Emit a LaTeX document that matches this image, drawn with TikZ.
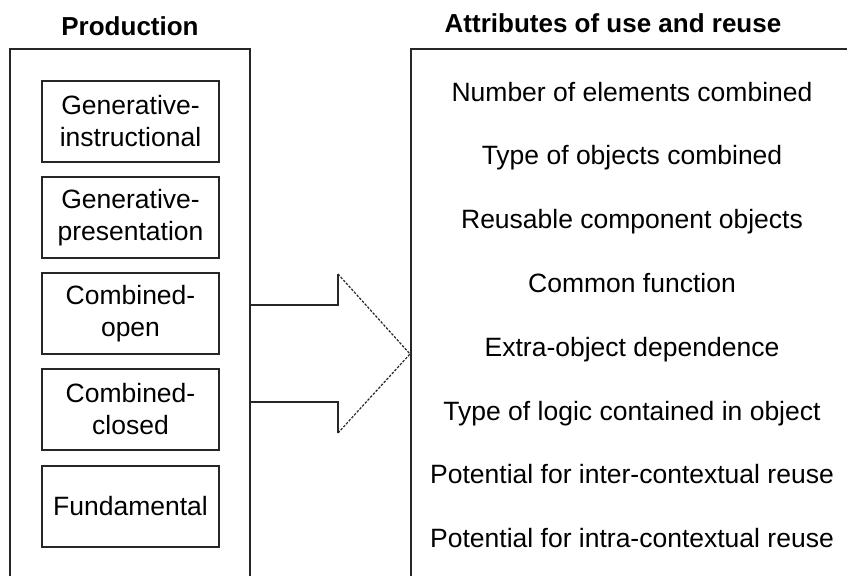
\documentclass[tikz,border=0pt]{standalone}
\usepackage{fontspec}
\setmainfont{Liberation Sans}
\begin{document}
\begin{tikzpicture}[x=1pt,y=-1pt,
  frame/.style={line width=1.6pt, draw=black!85},
  kindbox/.style={draw=black!85, line width=1.6pt, rectangle, minimum width=177pt,
    minimum height=81pt, inner sep=0pt, align=center,
    font=\fontsize{26.5}{32}\selectfont},
  attr/.style={anchor=base, inner sep=0pt, font=\fontsize{26.5}{32}\selectfont},
  title/.style={anchor=base, inner sep=0pt, font=\fontsize{26}{31}\selectfont\bfseries},
  arrowline/.style={line width=1.2pt, draw=black!85},
  arrowdiag/.style={line width=1.2pt, draw=black!85, dash pattern=on 2.5pt off 1.5pt}]
\useasboundingbox (0,0) rectangle (847,576);
\clip (0,0) rectangle (847,576);
\fill[white] (0,0) rectangle (847,576);

% titles
\node[title] (tprod) at (130,35) {Production};
\node[title] (tattr) at (613,32) {Attributes of use and reuse};

% outer frames
\coordinate (lbl) at (10,590);
\coordinate (ltl) at (10,49);
\coordinate (ltr) at (250,49);
\coordinate (lbr) at (250,590);
\draw[frame] (lbl) -- (ltl) -- (ltr) -- (lbr);

\coordinate (rbl) at (411,590);
\coordinate (rtl) at (411,49);
\coordinate (rtr) at (860,49);
\draw[frame] (rbl) -- (rtl) -- (rtr);

% production kinds
\node[kindbox] (k1) at (130.5,121.5) {Generative-\\instructional};
\node[kindbox] (k2) at (130.5,217.5) {Generative-\\presentation};
\node[kindbox] (k3) at (130.5,313.5) {Combined-\\open};
\node[kindbox] (k4) at (130.5,409.5) {Combined-\\closed};
\node[kindbox] (k5) at (130.5,506.5) {Fundamental};

% attributes
\node[attr] (a1) at (632,101) {Number of elements combined};
\node[attr] (a2) at (632,164.8) {Type of objects combined};
\node[attr] (a3) at (632,228.6) {Reusable component objects};
\node[attr] (a4) at (632,292.4) {Common function};
\node[attr] (a5) at (632,356.2) {Extra-object dependence};
\node[attr] (a6) at (632,420) {Type of logic contained in object};
\node[attr] (a7) at (632,483.8) {Potential for inter-contextual reuse};
\node[attr] (a8) at (632,547.6) {Potential for intra-contextual reuse};

% big arrow
\coordinate (p1) at (250,305);
\coordinate (p2) at (338,305);
\coordinate (p3) at (338,274);
\coordinate (tip) at (410,354);
\coordinate (p5) at (338,433);
\coordinate (p6) at (338,402);
\coordinate (p7) at (250,402);
\draw[arrowline] (p1) -- (p2) -- (p3);
\draw[arrowdiag] (p3) -- (tip) -- (p5);
\draw[arrowline] (p5) -- (p6) -- (p7);
\end{tikzpicture}
\end{document}
